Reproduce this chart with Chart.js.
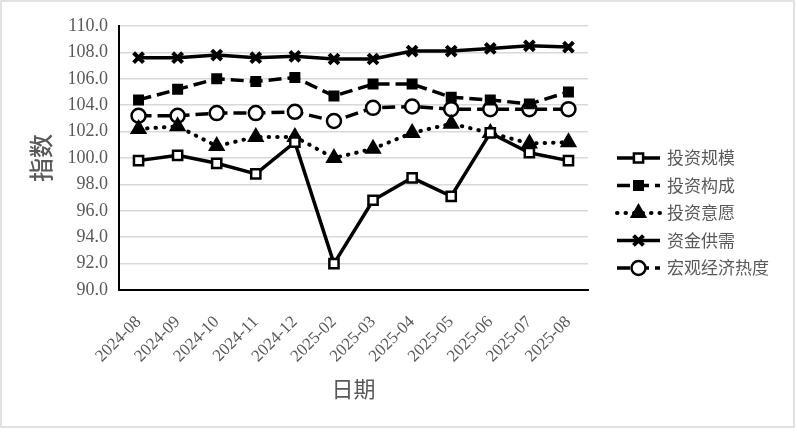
<!DOCTYPE html>
<html>
<head>
<meta charset="utf-8">
<script src="https://cdn.jsdelivr.net/npm/chart.js@4"></script>
<style>
  html, body { margin: 0; padding: 0; background: #fff; }
  #wrap { width: 797px; height: 432px; }
</style>
</head>
<body>
<div id="wrap"><canvas id="chart" width="797" height="432"></canvas></div>
<script>
// 数据
const months = ['2024-08', '2024-09', '2024-10', '2024-11', '2024-12', '2025-02',
  '2025-03', '2025-04', '2025-05', '2025-06', '2025-07', '2025-08'];
const scaleIdx = [99.8, 100.2, 99.6, 98.8, 101.2, 92.0, 96.8, 98.5, 97.1, 101.9, 100.4, 99.8];
const structIdx = [104.4, 105.2, 106.0, 105.8, 106.1, 104.7, 105.6, 105.6, 104.6, 104.4, 104.1, 105.0];
const willIdx = [102.2, 102.4, 100.9, 101.6, 101.6, 100.0, 100.7, 101.9, 102.6, 101.9, 101.1, 101.2];
const fundIdx = [107.6, 107.6, 107.8, 107.6, 107.7, 107.5, 107.5, 108.1, 108.1, 108.3, 108.5, 108.4];
const macroIdx = [103.2, 103.2, 103.4, 103.4, 103.5, 102.8, 103.8, 103.9, 103.7, 103.7, 103.7, 103.7];
const yTicks = [90, 92, 94, 96, 98, 100, 102, 104, 106, 108, 110];

const CJK = '"Noto Sans CJK SC", "Noto Sans", sans-serif';
const SERIF = '"Liberation Serif", "Times New Roman", Tinos, serif';
const TXT = '#595959';

const series = [
  { label: '投资规模', data: scaleIdx, dash: [], style: 'rect', radius: 6.5, fill: '#fff', width: 3.5, mw: 2.5 },
  { label: '投资构成', data: structIdx, dash: [13, 6], style: 'rect', radius: 6, fill: '#000', width: 3.5, mw: 2.5 },
  { label: '投资意愿', data: willIdx, dash: [0.5, 8], style: 'triangle', radius: 7.5, fill: '#000', width: 4, mw: 2.5 },
  { label: '资金供需', data: fundIdx, dash: [], style: 'crossRot', radius: 7, fill: '#000', width: 3.5, mw: 4 },
  { label: '宏观经济热度', data: macroIdx, dash: [13, 6], style: 'circle', radius: 7, fill: '#fff', width: 3.5, mw: 2.5 },
];

// 外框
const frame = {
  id: 'frame',
  beforeDraw(chart) {
    const ctx = chart.ctx;
    ctx.save();
    ctx.fillStyle = '#fff';
    ctx.fillRect(0, 0, chart.width, chart.height);
    ctx.strokeStyle = '#d9d9d9';
    ctx.lineWidth = 1.5;
    ctx.strokeRect(1, 1, 793, 426);
    ctx.restore();
  }
};

// 图例：线段 + 标记
const lineLegend = {
  id: 'lineLegend',
  afterDraw(chart) {
    const ctx = chart.ctx;
    const x0 = 617, x1 = 660, top = 158, step = 27.5;
    chart.data.datasets.forEach((ds, i) => {
      const y = top + i * step;
      ctx.save();
      ctx.strokeStyle = '#000';
      ctx.lineWidth = ds.borderWidth;
      ctx.lineCap = ds.borderCapStyle;
      ctx.setLineDash(ds.borderDash);
      ctx.beginPath();
      ctx.moveTo(x0, y);
      ctx.lineTo(x1, y);
      ctx.stroke();
      ctx.setLineDash([]);
      ctx.fillStyle = ds.pointBackgroundColor;
      ctx.strokeStyle = '#000';
      ctx.lineWidth = ds.pointBorderWidth;
      Chart.helpers.drawPoint(ctx, {
        pointStyle: ds.pointStyle, radius: ds.pointRadius, rotation: 0, borderWidth: ds.pointBorderWidth
      }, (x0 + x1) / 2, y);
      ctx.fillStyle = TXT;
      ctx.font = '17px ' + CJK;
      ctx.textBaseline = 'middle';
      ctx.fillText(ds.label, 667, y);
      ctx.restore();
    });
  }
};

new Chart(document.getElementById('chart'), {
  type: 'line',
  data: {
    labels: months,
    datasets: series.map(s => ({
      label: s.label,
      data: s.data,
      borderColor: '#000',
      borderWidth: s.width,
      borderDash: s.dash,
      borderCapStyle: s.style === 'triangle' ? 'round' : 'butt',
      pointStyle: s.style,
      pointRadius: s.radius,
      pointBackgroundColor: s.fill,
      pointBorderColor: '#000',
      pointBorderWidth: s.mw,
      tension: 0,
    }))
  },
  options: {
    responsive: false,
    animation: false,
    layout: { padding: { left: 0, right: 209, top: 26, bottom: 0 } },
    plugins: {
      legend: { display: false },
      tooltip: { enabled: false },
    },
    scales: {
      x: {
        offset: true,
        grid: { display: false, drawTicks: false },
        border: { color: '#000', width: 2 },
        ticks: {
          color: TXT, font: { family: SERIF, size: 17 },
          minRotation: 45, maxRotation: 45, padding: 22,
        },
        title: {
          display: true, text: '日期', color: TXT,
          font: { family: CJK, size: 22 }, padding: { top: 2, bottom: 30 }
        },
        afterFit: (scale) => { scale.height = 142; }
      },
      y: {
        min: 90, max: 110,
        afterBuildTicks: (scale) => { scale.ticks = yTicks.map(v => ({ value: v })); },
        grid: { color: '#d9d9d9', lineWidth: 1.5, drawTicks: false },
        border: { color: '#000', width: 2 },
        ticks: {
          color: TXT, font: { family: SERIF, size: 18 }, padding: 11,
          callback: (v) => v.toFixed(1)
        },
        title: {
          display: true, text: '指数', color: TXT,
          font: { family: CJK, size: 24, weight: '500' }, padding: { top: 26, bottom: 0 }
        },
        afterFit: (scale) => { scale.width = 119; }
      }
    }
  },
  plugins: [frame, lineLegend]
});
</script>
</body>
</html>
